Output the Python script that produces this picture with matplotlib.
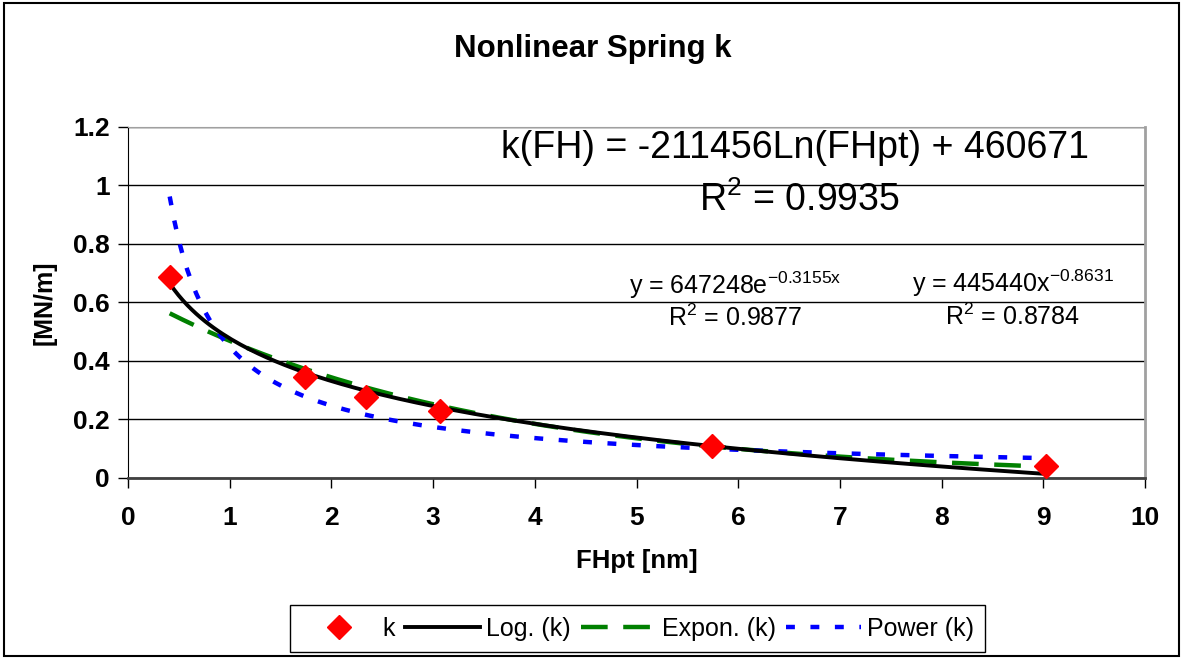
import numpy as np
import matplotlib
matplotlib.use("Agg")
import matplotlib.pyplot as plt
from matplotlib.patches import Rectangle

plt.rcParams['font.family'] = ['Liberation Sans', 'DejaVu Sans']
plt.rcParams['mathtext.fontset'] = 'custom'
plt.rcParams['mathtext.rm'] = 'Liberation Sans'
plt.rcParams['mathtext.it'] = 'Liberation Sans'

# measured points: FHpt [nm] vs k [MN/m]
fh = [0.41, 1.74, 2.34, 3.07, 5.74, 9.03]
k = [0.687, 0.345, 0.277, 0.229, 0.109, 0.041]

# equation labels as printed on the chart
eq_log = 'k(FH) = -211456Ln(FHpt) + 460671'
r2_log = r'R$^{2}$ = 0.9935'
eq_exp = r'y = 647248e$^{-0.3155x}$'
r2_exp = r'R$^{2}$ = 0.9877'
eq_pow = r'y = 445440x$^{-0.8631}$'
r2_pow = r'R$^{2}$ = 0.8784'

x = np.array(fh)
y = np.array(k)

# trendlines fitted to the points the same way Excel does it
la, lb = np.polyfit(np.log(x), y, 1)
eb, ea = np.polyfit(x, np.log(y), 1)
pb, pa = np.polyfit(np.log(x), np.log(y), 1)

xs = np.linspace(x.min(), x.max(), 200)
y_log = la * np.log(xs) + lb
y_exp = np.exp(ea) * np.exp(eb * xs)
y_pow = np.exp(pa) * xs ** pb

fig = plt.figure(figsize=(11.83, 6.59), dpi=100)
ax = fig.add_axes([0.1082, 0.2747, 0.8597, 0.5326])

ax.plot(fh, k, linestyle='none', marker='D', markersize=12, color='red', label='k', zorder=5)
ax.plot(xs, y_log, color='black', lw=2.8, label='Log. (k)', zorder=4)
ax.plot(xs, y_exp, color='green', lw=3.2, dashes=(6, 3.5), label='Expon. (k)', zorder=3)
ax.plot(xs, y_pow, color='blue', lw=3.2, dashes=(2.0, 3.5), label='Power (k)', zorder=3)

ax.set_xlim(0, 10)
ax.set_ylim(0, 1.2)
ax.set_xticks(range(0, 11))
ax.set_yticks([0, 0.2, 0.4, 0.6, 0.8, 1, 1.2])
ax.set_yticklabels(['0', '0.2', '0.4', '0.6', '0.8', '1', '1.2'])
ax.yaxis.grid(True, color='black', lw=1)
ax.set_axisbelow(True)
ax.tick_params(direction='out', length=7, width=1, labelsize=19)
ax.tick_params(axis='x', pad=13)
ax.tick_params(axis='y', pad=6)
for lab in ax.get_xticklabels() + ax.get_yticklabels():
    lab.set_fontweight('bold')
ax.spines['left'].set_color('black')
ax.spines['bottom'].set_color('#404040')
ax.spines['bottom'].set_linewidth(2)
ax.spines['top'].set_color('#a0a0a0')
ax.spines['right'].set_color('#a0a0a0')
ax.spines['right'].set_linewidth(2)

ax.set_xlabel('FHpt [nm]', fontsize=18.5, fontweight='bold', labelpad=14)
ax.set_ylabel('[MN/m]', fontsize=18, fontweight='bold', labelpad=12)
fig.text(0.501, 0.925, 'Nonlinear Spring k', ha='center', va='center',
         fontsize=22.5, fontweight='bold')

ax.text(6.56, 1.128, eq_log, ha='center', va='center', fontsize=27)
ax.text(6.6, 0.95, r2_log, ha='center', va='center', fontsize=27)
ax.text(5.97, 0.66, eq_exp, ha='center', va='center', fontsize=18)
ax.text(5.97, 0.547, r2_exp, ha='center', va='center', fontsize=18)
ax.text(8.70, 0.665, eq_pow, ha='center', va='center', fontsize=18)
ax.text(8.70, 0.552, r2_pow, ha='center', va='center', fontsize=18)

leg = fig.legend(loc='lower center', bbox_to_anchor=(0.539, 0.011), ncol=4, fontsize=18,
                 frameon=True, fancybox=False, edgecolor='black', framealpha=1,
                 handlelength=3.0, columnspacing=0.4, handletextpad=0.25, borderpad=0.45,
                 borderaxespad=0)
leg.get_frame().set_linewidth(1)

fig.patches.append(Rectangle((0.003, 0.004), 0.994, 0.992, transform=fig.transFigure,
                             fill=False, edgecolor='black', lw=1.5))

fig.savefig('out.png', dpi=100)
